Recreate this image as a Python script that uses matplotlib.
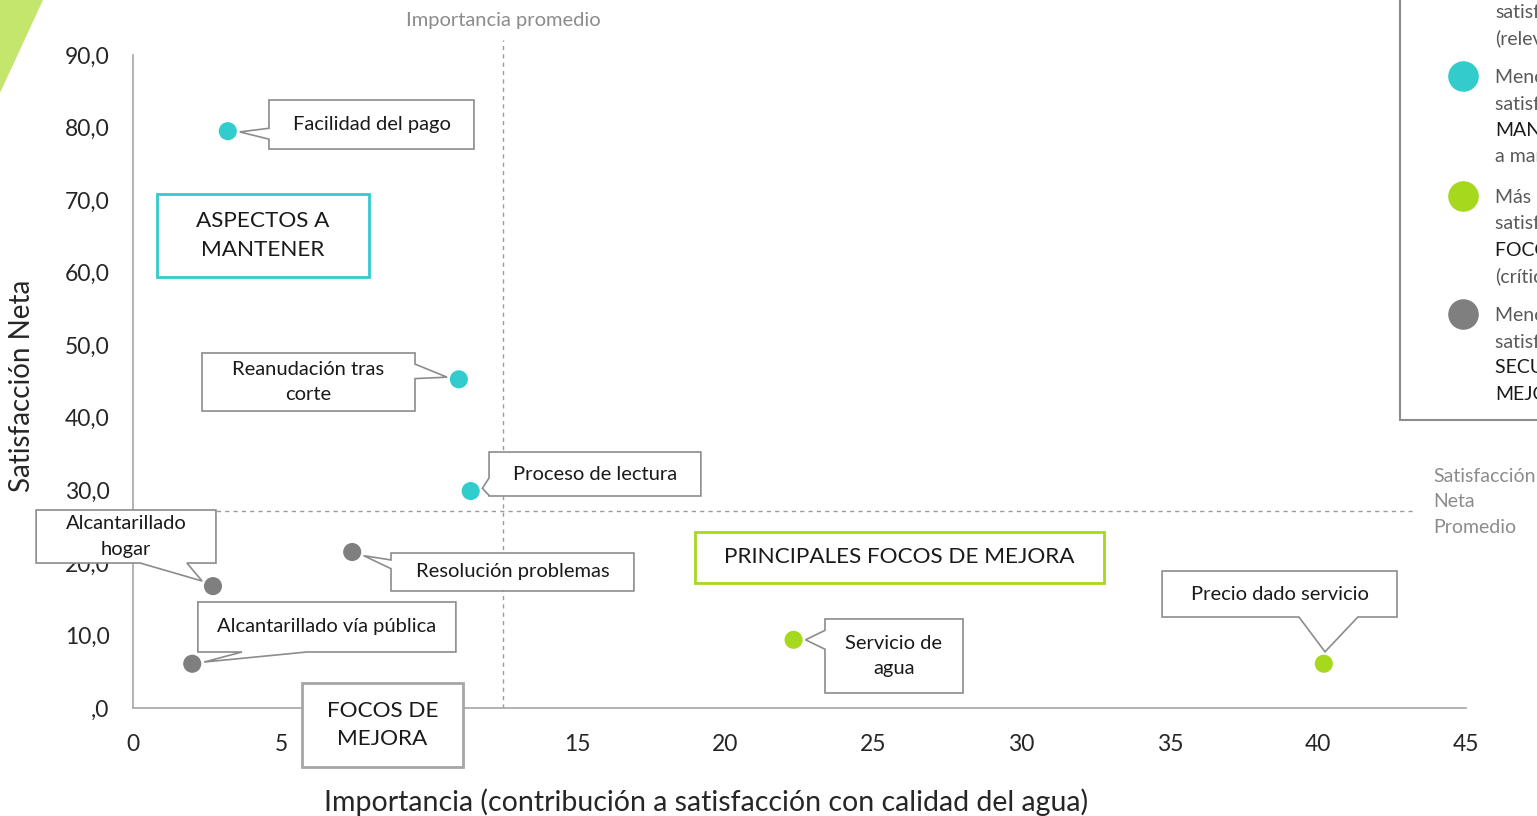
import numpy as np
import matplotlib
matplotlib.use("Agg")
import matplotlib.pyplot as plt
from matplotlib.patches import Polygon, Rectangle

plt.rcParams["font.family"] = ["Lato", "DejaVu Sans"]

# ----------------------------------------------------------------------
# data
# ----------------------------------------------------------------------
labels = ["Facilidad del pago", "Reanudación tras\ncorte", "Proceso de lectura",
          "Resolución problemas", "Alcantarillado\nhogar",
          "Alcantarillado vía pública", "Servicio de\nagua",
          "Precio dado servicio"]
importancia = [3.2, 11.0, 11.4, 7.4, 2.7, 2.0, 22.3, 40.2]
satisfaccion = [79.5, 45.3, 29.9, 21.5, 16.8, 6.1, 9.4, 6.1]
grupo = ["mantener", "mantener", "mantener", "secundario", "secundario",
         "secundario", "foco", "foco"]

imp_promedio = 12.5
sat_promedio = 27.1

x_ticks = [0, 5, 10, 15, 20, 25, 30, 35, 40, 45]
y_ticks = [0, 10, 20, 30, 40, 50, 60, 70, 80, 90]

COLORS = {"mantener": "#33cccc", "foco": "#a6d81e", "secundario": "#7f7f7f"}
BOX_EC = "#8c8c8c"
GRAY_TXT = "#8c8c8c"

# callout layout: box (x0, x1, y0, y1), side of the wedge, wedge base (a, b)
callouts = [
    ((4.59, 11.51, 77.04, 83.80), "left", (78.4, 79.9)),
    ((2.33, 9.52, 40.93, 48.93), "right", (45.4, 47.4)),
    ((12.02, 19.17, 29.22, 35.28), "left", (29.3, 31.7)),
    ((8.71, 16.91, 16.13, 21.36), "left", (19.2, 20.4)),
    ((-3.27, 2.80, 19.98, 27.29), "bottom", (0.24, 1.82)),
    ((2.19, 10.90, 7.72, 14.61), "bottom", (3.68, 5.87)),
    ((23.36, 28.02, 2.07, 12.27), "left", (8.1, 10.7)),
    ((34.74, 42.67, 12.54, 18.88), "bottom", (39.36, 41.35)),
]

# ----------------------------------------------------------------------
# figure
# ----------------------------------------------------------------------
W, H = 1537, 816
fig = plt.figure(figsize=(W / 100, H / 100), dpi=100)
ax = fig.add_axes([133 / W, 1 - 708 / H, 1333 / W, 653 / H])
ax.set_xlim(0, 45)
ax.set_ylim(0, 90)

# green corner shape
fig.patches.append(Polygon([(0, 1), (43 / W, 1), (0, 1 - 93 / H)],
                           closed=True, transform=fig.transFigure,
                           facecolor="#c4e66c", edgecolor="none", zorder=0))

for s in ["top", "right"]:
    ax.spines[s].set_visible(False)
for s in ["left", "bottom"]:
    ax.spines[s].set_color("#a6a6a6")
    ax.spines[s].set_linewidth(1.2)

ax.set_xticks(x_ticks)
ax.set_xticklabels([str(t) for t in x_ticks])
ax.set_yticks(y_ticks)
ax.set_yticklabels([",0" if t == 0 else f"{t:.1f}".replace(".", ",")
                    for t in y_ticks])
ax.tick_params(axis="both", length=0, labelsize=16.5, colors="#262626")
ax.tick_params(axis="y", pad=17)
ax.tick_params(axis="x", pad=19)

fig.text(22 / W, 1 - 386 / H, "Satisfacción Neta", rotation=90, ha="center",
         va="center", fontsize=20, color="#262626")
fig.text(706 / W, 1 - 802 / H,
         "Importancia (contribución a satisfacción con calidad del agua)",
         ha="center", va="center", fontsize=20.5, color="#262626")

# average lines
ax.plot([imp_promedio, imp_promedio], [0, 92.1], color="#9a9a9a", lw=1,
        ls=(0, (3, 3)), clip_on=False, zorder=1)
ax.plot([0, 43.2], [sat_promedio, sat_promedio], color="#9a9a9a", lw=1,
        ls=(0, (3, 3)), clip_on=False, zorder=1)
ax.text(imp_promedio, 93.6, "Importancia promedio", ha="center", va="bottom",
        fontsize=14.5, color=GRAY_TXT, clip_on=False)
fig.text(1433 / W, 1 - 468 / H, "Satisfacción\nNeta\nPromedio", ha="left",
         va="top", fontsize=14, color=GRAY_TXT, linespacing=1.6)

# points
ax.scatter(importancia, satisfaccion, s=170,
           c=[COLORS[g] for g in grupo], zorder=5, clip_on=False,
           edgecolors="none")


def callout(ax, pt, box, side, base, text):
    x0, x1, y0, y1 = box
    # keep a little gap between wedge tip and marker
    to_px = ax.transData.transform
    p = to_px(pt)
    if side == "left":
        mid = to_px((x0, sum(base) / 2))
    elif side == "right":
        mid = to_px((x1, sum(base) / 2))
    else:
        mid = to_px((sum(base) / 2, y0))
    d = mid - p
    tip_px = p + d / np.hypot(*d) * 12
    tip = ax.transData.inverted().transform(tip_px)
    a, b = base
    if side == "left":
        verts = [(x0, y1), (x1, y1), (x1, y0), (x0, y0), (x0, a), tip, (x0, b)]
    elif side == "right":
        verts = [(x0, y1), (x1, y1), (x1, b), tip, (x1, a), (x1, y0), (x0, y0)]
    else:
        verts = [(x0, y1), (x1, y1), (x1, y0), (b, y0), tip, (a, y0), (x0, y0)]
    ax.add_patch(Polygon(verts, closed=True, facecolor="white",
                         edgecolor=BOX_EC, lw=1.2, zorder=3, clip_on=False))
    ax.text((x0 + x1) / 2, (y0 + y1) / 2, text, ha="center", va="center",
            fontsize=14.5, color="#1a1a1a", zorder=4, linespacing=1.6,
            clip_on=False)


for lab, xi, yi, (box, side, base) in zip(labels, importancia, satisfaccion,
                                          callouts):
    callout(ax, (xi, yi), box, side, base, lab)


def region_box(ax, box, text, ec):
    x0, x1, y0, y1 = box
    ax.add_patch(Rectangle((x0, y0), x1 - x0, y1 - y0, facecolor="white",
                           edgecolor=ec, lw=2, zorder=3, clip_on=False))
    ax.text((x0 + x1) / 2, (y0 + y1) / 2, text, ha="center", va="center",
            fontsize=16.2, color="#1a1a1a", zorder=4, linespacing=1.55,
            clip_on=False)


region_box(ax, (0.81, 7.97, 59.40, 70.84), "ASPECTOS A\nMANTENER", "#33cccc")
region_box(ax, (5.71, 11.14, -8.13, 3.45), "FOCOS DE\nMEJORA", "#a6a6a6")
region_box(ax, (18.97, 32.78, 17.23, 24.26), "PRINCIPALES FOCOS DE MEJORA",
           "#a6d81e")

# legend (cut by the figure edge)
fig.patches.append(Rectangle((1400 / W, 1 - 420 / H), 200 / W, 440 / H,
                             transform=fig.transFigure, facecolor="white",
                             edgecolor="#8c8c8c", lw=1.5, zorder=2))
legend_items = [
    (None, [("satisfacción:", "#595959"), ("(relevantes)", "#595959")], 10),
    ("mantener", [("Menos importancia,", "#595959"),
                  ("satisfacción alta:", "#595959"),
                  ("MANTENER", "#1a1a1a"), ("a mantener", "#595959")], 76),
    ("foco", [("Más importancia,", "#595959"),
              ("satisfacción baja:", "#595959"),
              ("FOCOS DE MEJORA", "#1a1a1a"), ("(críticos)", "#595959")], 196),
    ("secundario", [("Menos importancia,", "#595959"),
                    ("satisfacción baja:", "#595959"),
                    ("SECUNDARIOS DE", "#1a1a1a"), ("MEJORA", "#1a1a1a")], 314),
]
for key, lines, ytop in legend_items:
    if key is not None:
        fig.add_artist(plt.Line2D([1463 / W], [1 - ytop / H], marker="o",
                                  markersize=21, color=COLORS[key], lw=0,
                                  transform=fig.transFigure, zorder=3))
    for i, (txt, col) in enumerate(lines):
        fig.text(1495 / W, 1 - (ytop + 26 * i + 2) / H, txt, ha="left",
                 va="center", fontsize=14, color=col, zorder=3)

fig.savefig("out.png", dpi=100)
